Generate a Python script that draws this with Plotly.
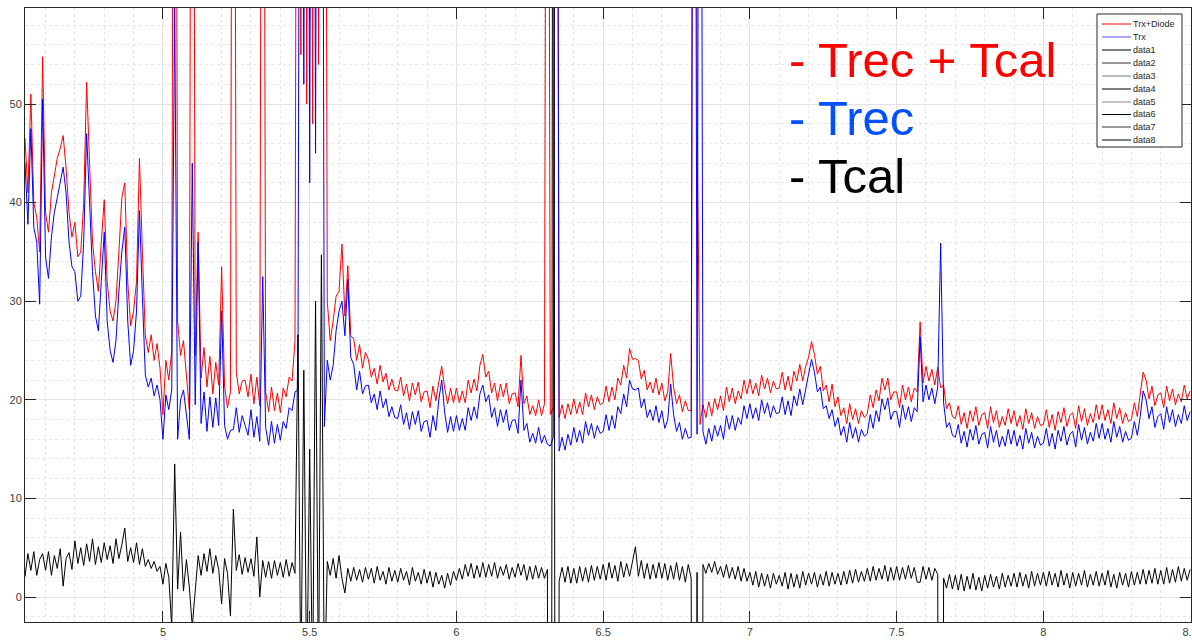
import numpy as np
import plotly.graph_objects as go

# ---------------- data ----------------
# frequency grid: first sample and spacing (one row below = 0.1 units)
x_start = 4.50
x_step = 0.01

# Trx+Diode  (red)  "Trec + Tcal"
red = [
    46, 45, 47, 46.5, 41, 51, 40, 38.5, 35, 54.8,
    39, 37, 41, 43, 44.5, 45.5, 46.8, 43.5, 39, 36.5,
    38, 34.5, 35, 40, 52.2, 44, 36, 33, 31, 36,
    40.3, 32, 29, 28, 30, 35, 40.5, 42, 32, 27.5,
    29, 32, 44.5, 35, 26.5, 24.8, 26.6, 24.0, 25.7, 23.2,
    18.5, 24, 22, 25, 150, 28, 24.5, 26, 22, 19,
    150, 24.5, 37, 22.2, 25.3, 21.3, 24.4, 20.6, 23.8, 21.5,
    33.5, 21.4, 19.2, 20.8, 150, 22.8, 20.6, 21.9, 22.0, 20.3,
    22.6, 19.6, 22.3, 19.4, 150, 20.8, 18.8, 21.3, 18.9, 20.7,
    18.7, 21.2, 20.3, 22.3, 21.9, 26, 150, 55, 150, 50,
    150, 48, 150, 54, 150, 150, 30, 26, 28, 30.5,
    31, 35.8, 28.5, 33.6, 26.5, 26.2, 24, 25.6, 23.2, 24.8,
    24.1, 22.3, 23.2, 21.6, 23.5, 21.8, 22.7, 21.0, 22.1, 21.0,
    20.9, 22.3, 20.4, 21.6, 19.9, 21.7, 20.5, 21.8, 19.8, 20.8,
    20.9, 19.2, 21.4, 19.9, 21.8, 23.4, 21.2, 19.6, 21.2, 19.7,
    21.2, 19.7, 20.9, 19.7, 22.0, 20.7, 22.1, 20.9, 23.5, 24.6,
    22.3, 22.9, 20.7, 21.7, 19.9, 21.6, 20.3, 21.7, 19.6, 20.6,
    20.7, 19.3, 24.5, 19.6, 20.4, 18.5, 19.4, 18.4, 20.0, 18.4,
    19.6, 150, 18.5, 19.2, 150, 18.2, 19.5, 18.1, 19.6, 18.5,
    20.1, 18.6, 19.8, 18.5, 20.7, 19.3, 20.5, 19.0, 20.3, 19.5,
    19.7, 21.4, 19.8, 21.3, 20.0, 22.2, 21.5, 23.5, 22.2, 25.2,
    24.1, 24.2, 24.0, 22.1, 23.0, 21.0, 21.8, 20.7, 22.2, 20.5,
    21.7, 19.9, 20.8, 24.7, 21.3, 19.6, 20.5, 18.8, 19.9, 18.9,
    18.9, 150, 50, 17.5, 19.5, 18.2, 19.8, 18.4, 20.1, 19.0,
    20.4, 18.9, 21.3, 19.8, 21.2, 19.6, 20.9, 20.1, 22.0, 20.6,
    22.1, 20.6, 21.7, 20.4, 22.5, 21.1, 22.2, 20.7, 21.9, 21.1,
    21.2, 22.8, 21.0, 22.4, 20.9, 22.9, 21.9, 23.6, 21.9, 23.4,
    24.3, 25.9, 24.6, 22.6, 23.4, 20.9, 21.5, 19.8, 21.6, 19.3,
    20.3, 18.4, 19.2, 17.6, 19.6, 18.0, 19.1, 17.6, 18.9, 18.2,
    18.6, 20.5, 19.2, 21.0, 19.9, 22.2, 21.0, 22.2, 20.0, 20.8,
    20.8, 19.2, 21.5, 20.0, 21.3, 19.8, 21.2, 20.8, 27.9, 21.7,
    23.4, 21.9, 23.1, 21.5, 23.3, 21.2, 21.5, 19.1, 19.7, 18.3,
    18.1, 19.4, 17.5, 18.7, 17.1, 18.9, 17.8, 19.3, 17.4, 18.5,
    18.7, 17.1, 19.3, 17.7, 18.9, 17.2, 18.3, 17.4, 19.1, 17.6,
    18.9, 17.3, 18.4, 17.0, 19.1, 17.6, 18.7, 17.1, 18.3, 17.4,
    17.5, 19.0, 17.2, 18.5, 16.9, 18.8, 17.7, 19.2, 17.3, 18.4,
    18.7, 17.1, 19.4, 17.8, 19.1, 17.4, 18.6, 17.7, 19.5, 18.0,
    19.5, 17.9, 19.0, 17.6, 19.7, 18.1, 19.2, 17.6, 18.7, 17.8,
    18.0, 19.7, 18.3, 20.3, 22.8, 22.0, 20.1, 21.4, 19.4, 20.5,
    20.7, 19.2, 21.4, 19.9, 21.1, 19.5, 20.6, 19.8, 21.5, 20.1,
    20.9,
]

# Trx  (blue)  "Trec"
blue = [
    44, 43, 45, 44, 37.8, 47.5, 37.5, 36, 29.7, 50.5,
    34.5, 32.3, 36.5, 39, 40.5, 42, 43.6, 41, 36, 33.5,
    33, 30, 30.5, 36, 47, 40, 33, 28.5, 27, 32,
    37, 28, 25, 23.8, 26, 31, 35, 37.5, 28, 23.5,
    25, 29, 39.2, 30.5, 22.5, 21.3, 22.2, 20.4, 21.5, 20.0,
    16, 20.5, 19, 21, 60, 16, 20, 21, 18.5, 16,
    44, 19.5, 36, 17.6, 20.8, 16.8, 20.3, 17.2, 20.2, 17.4,
    29, 17.4, 16.0, 16.9, 17, 19.2, 16.7, 18.4, 17.4, 16.4,
    19.0, 16.2, 18.3, 15.8, 32.5, 17.2, 15.4, 17.8, 15.6, 17.5,
    15.9, 17.8, 17.1, 19.2, 18.9, 20.8, 21, 150, 52, 150,
    42, 150, 45, 150, 150, 17.3, 24, 22, 23.5, 27,
    29, 30, 26.5, 32.2, 24.3, 23.6, 21, 22.9, 20.6, 21.4,
    21.5, 19.7, 20.6, 19.0, 20.9, 19.2, 20.1, 18.3, 19.3, 18.2,
    18.1, 19.5, 17.5, 18.7, 17.0, 18.8, 17.5, 18.9, 16.8, 17.8,
    17.9, 16.2, 18.4, 16.9, 20.0, 22.0, 18.7, 16.7, 18.3, 16.8,
    18.4, 16.9, 18.1, 16.9, 19.2, 17.9, 19.3, 18.1, 20.6, 21.5,
    19.8, 20.5, 18.2, 19.2, 17.3, 19.0, 17.7, 19.0, 16.9, 17.9,
    18.0, 16.6, 22.0, 16.9, 17.6, 15.7, 16.6, 15.6, 17.2, 15.6,
    16.4, 15.5, 15.3, 16.2, 150, 14.8, 16.2, 14.9, 16.5, 15.4,
    17.2, 15.7, 16.9, 15.6, 17.8, 16.4, 17.6, 16.1, 17.4, 16.6,
    16.8, 18.5, 16.9, 18.4, 17.1, 19.3, 18.6, 20.6, 19.3, 22.0,
    21.1, 21.0, 21.2, 19.2, 20.1, 18.2, 19.0, 17.9, 19.4, 17.7,
    18.9, 17.1, 18.0, 21.6, 18.5, 16.8, 17.7, 16.0, 17.1, 16.1,
    16.2, 150, 16.5, 150, 16.8, 15.5, 17.1, 15.8, 17.4, 16.3,
    17.4, 16.0, 18.4, 17.0, 18.4, 16.9, 18.2, 17.5, 19.4, 18.1,
    19.6, 18.1, 19.2, 17.9, 20.0, 18.6, 19.7, 18.2, 19.4, 18.6,
    18.7, 20.3, 18.5, 19.9, 18.4, 20.4, 19.4, 21.1, 19.5, 21.2,
    22.6, 24.1, 22.8, 20.8, 21.3, 19.1, 19.4, 18.1, 19.0, 17.3,
    18.2, 16.4, 17.3, 15.7, 17.7, 16.1, 17.2, 15.7, 17.0, 16.3,
    16.6, 18.5, 17.1, 18.9, 17.8, 20.1, 19.0, 20.2, 18.0, 18.8,
    18.8, 17.2, 19.5, 18.0, 19.3, 17.8, 19.2, 18.8, 26.4, 19.8,
    21.5, 20.0, 21.2, 19.6, 21.3, 35.9, 19.7, 17.2, 17.7, 16.4,
    16.2, 17.5, 15.6, 16.8, 15.2, 17.0, 15.9, 17.4, 15.5, 16.5,
    16.7, 15.1, 17.3, 15.7, 16.9, 15.2, 16.3, 15.3, 17.0, 15.5,
    16.9, 15.3, 16.4, 15.0, 17.1, 15.6, 16.7, 15.1, 16.3, 15.4,
    15.6, 17.1, 15.3, 16.6, 15.0, 16.9, 15.8, 17.3, 15.4, 16.5,
    16.8, 15.2, 17.5, 15.9, 17.2, 15.5, 16.7, 15.8, 17.6, 16.1,
    17.6, 16.0, 17.1, 15.7, 17.8, 16.2, 17.3, 15.7, 16.8, 15.9,
    16.1, 17.8, 16.4, 18.3, 20.9, 20.0, 18.1, 19.3, 17.2, 18.3,
    18.6, 17.0, 19.3, 17.7, 19.0, 17.3, 18.5, 17.6, 19.4, 17.9,
    18.8,
]

# data1 (black)  "Tcal"
black = [
    3.9, 2.4, 4.0, 2.1, 4.4, 2.7, 4.6, 2.2, 3.8, 4.4,
    2.7, 4.6, 2.2, 4.2, 2.9, 4.9, 1.1, 3.9, 4.5, 2.8,
    5.7, 3.4, 5.0, 3.2, 5.4, 3.6, 5.9, 3.3, 5.1, 3.5,
    5.5, 3.8, 5.2, 3.4, 5.9, 3.9, 5.3, 7.0, 3.6, 5.0,
    3.5, 5.5, 3.3, 4.9, 3.1, 3.8, 2.9, 3.6, 2.6, 3.1,
    1.3, 3.4, 2.0, -3, 13.5, 0.8, 6.6, 0.6, 3.8, 1.0,
    -3, 0.4, 4.2, 2.2, 4.4, 2.6, 4.9, 2.4, 4.2, 2.8,
    -0.7, 3.9, 2.4, -1.9, 8.9, 2.7, 4.3, 2.3, 4.0, 2.5,
    3.9, 2.1, 6.1, 0.0, 3.7, 2.0, 3.6, 1.9, 3.7, 2.2,
    3.5, 2.0, 3.8, 2.1, 3.5, 2.4, 26.6, -10, 23, -10,
    15, -10, 30, -10, 34.7, -10, 3.6, 2.2, 3.9, 1.9,
    4.2, 1.9, 0.4, 2.9, 1.6, 3.0, 1.7, 2.8, 1.5, 3.0,
    1.8, 2.9, 1.4, 3.1, 1.7, 2.6, 1.3, 3.0, 1.6, 2.7,
    1.5, 2.9, 1.7, 2.6, 1.2, 3.0, 1.6, 2.5, 1.3, 2.8,
    1.4, 2.6, 1.0, 2.5, 1.3, 2.2, 0.9, 2.4, 1.2, 2.6,
    1.7, 2.9, 1.8, 3.3, 2.1, 3.4, 1.9, 3.2, 2.0, 3.5,
    2.0, 3.3, 2.1, 3.5, 1.9, 3.1, 2.2, 3.3, 1.8, 3.0,
    2.0, 3.4, 2.2, 3.3, 1.7, 3.1, 1.8, 3.2, 1.9, 3.0,
    1.9, 2.8, -150, 150, -150, 1.6, 3.0, 1.5, 3.1, 1.4,
    2.9, 1.4, 3.1, 1.6, 3.0, 1.5, 3.2, 1.7, 3.1, 1.8,
    3.3, 1.7, 3.5, 1.9, 3.2, 1.6, 3.6, 2.0, 3.4, 2.1,
    3.5, 5.1, 2.1, 3.7, 1.9, 3.4, 1.8, 3.3, 1.9, 3.5,
    1.9, 3.4, 1.7, 3.2, 1.8, 3.5, 1.7, 3.1, 1.5, 3.3,
    1.9, -150, 2.5, -150, 3.3, 2.4, 3.4, 2.5, 3.6, 2.3,
    3.1, 2.0, 3.3, 1.9, 3.0, 1.8, 3.1, 1.6, 2.9, 1.6,
    2.5, 1.2, 2.6, 1.0, 2.4, 1.1, 2.3, 0.9, 2.4, 1.3,
    2.2, 1.1, 2.5, 0.8, 2.4, 1.0, 2.3, 0.9, 2.6, 1.2,
    2.4, 1.3, 2.5, 1.0, 2.3, 1.2, 2.6, 1.1, 2.5, 1.3,
    2.4, 1.2, 2.6, 1.3, 2.7, 1.4, 2.8, 1.5, 2.6, 1.6,
    2.9, 1.6, 3.1, 1.7, 2.9, 1.8, 3.2, 1.6, 3.0, 1.7,
    3.1, 1.7, 3.0, 1.8, 3.2, 1.9, 3.0, 1.5, 1.5, 3.1,
    1.8, 3.0, 1.7, 2.9, 2.3, -150, 1.9, 0.9, 2.3, 0.8,
    2.2, 0.7, 2.3, 0.6, 2.1, 0.8, 2.4, 0.7, 2.0, 0.6,
    2.2, 0.9, 2.3, 1.0, 2.1, 0.8, 2.4, 1.0, 2.2, 1.1,
    2.4, 1.0, 2.5, 1.1, 2.3, 0.9, 2.6, 1.1, 2.4, 1.2,
    2.5, 1.1, 2.6, 1.2, 2.4, 1.0, 2.7, 1.2, 2.4, 0.9,
    2.5, 1.1, 2.4, 1.2, 2.7, 1.0, 2.3, 1.2, 2.6, 1.1,
    2.4, 1.2, 2.7, 1.0, 2.3, 0.9, 2.5, 1.2, 2.4, 1.0,
    2.6, 1.2, 2.5, 1.3, 2.8, 1.3, 2.7, 1.4, 2.9, 1.3,
    2.7, 1.3, 3.0, 1.4, 2.8, 1.5, 3.1, 1.6, 2.9, 1.7,
    2.8,
]

legend_names = ["Trx+Diode", "Trx", "data1", "data2", "data3",
                "data4", "data5", "data6", "data7", "data8"]
legend_colors = ["#ff0000", "#5555ff", "#000000", "#333333", "#777777",
                 "#000000", "#888888", "#000000", "#999999", "#000000"]
legend_widths = [1, 1, 1, 1, 1, 1, 1, 1, 2, 1]

big_labels = ["- Trec + Tcal", "- Trec", "- Tcal"]
big_colors = ["#ff0000", "#0050ff", "#000000"]

x_tick_step = 0.5
y_tick_step = 10

n = len(red)
assert len(blue) == n and len(black) == n, (len(red), len(blue), len(black))
freq = np.round(x_start + x_step * np.arange(n), 4)

# ---------------- layout geometry (pixels) ----------------
W, H = 1192, 640
L, R, T, B = 25, 1191, 8, 622


def px(xp):
    return (xp - L) / (R - L)


def py(yp):
    return (B - yp) / (B - T)


fig = go.Figure()
fig.add_trace(go.Scatter(x=freq, y=red, mode="lines", name=legend_names[0],
                         line=dict(color="#ff0000", width=1), showlegend=False))
fig.add_trace(go.Scatter(x=freq, y=blue, mode="lines", name=legend_names[1],
                         line=dict(color="#0000ff", width=1), showlegend=False))
fig.add_trace(go.Scatter(x=freq, y=black, mode="lines", name=legend_names[2],
                         line=dict(color="#000000", width=1), showlegend=False))

font_fam = "Liberation Sans, Arial, Helvetica, sans-serif"
axis_common = dict(
    showline=True, linecolor="#262626", linewidth=1, mirror="ticks",
    ticks="inside", ticklen=11, tickwidth=1, tickcolor="#262626",
    showgrid=True, gridcolor="#e3e3e3", gridwidth=1, zeroline=False,
    tickfont=dict(family=font_fam, size=11, color="#404040"),
)

fig.update_xaxes(range=[4.53, 8.503], tick0=0, dtick=x_tick_step,
                 ticklabeloverflow="allow",
                 minor=dict(dtick=0.1, showgrid=True, gridcolor="#e6e6e6",
                            griddash="dot", gridwidth=1),
                 **axis_common)
fig.update_yaxes(range=[-2.535, 59.74], tick0=0, dtick=y_tick_step,
                 minor=dict(dtick=2, showgrid=True, gridcolor="#e6e6e6",
                            griddash="dot", gridwidth=1),
                 **axis_common)

shapes = []
annotations = []

# legend box (drawn by hand to match the compact MATLAB legend)
shapes.append(dict(type="rect", xref="paper", yref="paper",
                   x0=px(1097), x1=px(1182), y0=py(147), y1=py(14),
                   line=dict(color="#262626", width=1), fillcolor="white",
                   layer="above"))
row_y = [24, 37, 50, 63, 76, 89, 102, 114.5, 127, 140]
for name, col, wd, yy in zip(legend_names, legend_colors, legend_widths, row_y):
    shapes.append(dict(type="line", xref="paper", yref="paper",
                       x0=px(1102), x1=px(1131), y0=py(yy), y1=py(yy),
                       line=dict(color=col, width=wd), layer="above"))
    annotations.append(dict(text=name, xref="paper", yref="paper",
                            x=px(1131), y=py(yy), xanchor="left", yanchor="middle",
                            showarrow=False,
                            font=dict(family=font_fam, size=9, color="#262626")))

for txt, col, yy in zip(big_labels, big_colors, [60, 118, 176]):
    annotations.append(dict(text=txt, xref="paper", yref="paper",
                            x=px(787), y=py(yy), xanchor="left", yanchor="middle",
                            showarrow=False,
                            font=dict(family=font_fam, size=49, color=col)))

fig.update_layout(
    width=W, height=H, autosize=False,
    margin=dict(l=L, r=W - R, t=T, b=H - B, pad=0, autoexpand=False),
    paper_bgcolor="white", plot_bgcolor="white",
    showlegend=False, shapes=shapes, annotations=annotations,
)

fig.write_html(
    "out.html",
    config={"displayModeBar": False},
    post_script="document.body.style.margin='0px';document.body.style.padding='0px';"
                "document.body.style.overflow='hidden';",
)
